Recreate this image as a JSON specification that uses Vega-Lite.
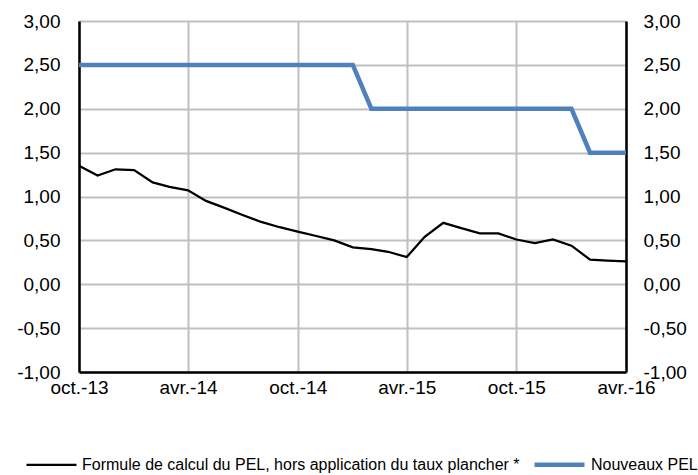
{
  "$schema": "https://vega.github.io/schema/vega-lite/v6.json",
  "autosize": "none",
  "width": 547,
  "height": 351,
  "padding": {"left": 79, "top": 21, "right": 72, "bottom": 103},
  "background": "white",
  "title": {"text": "en pourcentage", "anchor": "start", "frame": "group", "dx": -100, "offset": 1, "baseline": "alphabetic", "fontSize": 19, "font": "Liberation Sans", "fontWeight": "bold", "color": "#3B7DD8"},
  "config": {
    "font": "Liberation Sans",
    "view": {"stroke": null},
    "axis": {"labelFont": "Liberation Sans", "labelFontSize": 19, "labelColor": "#000000", "ticks": false, "gridColor": "#C0C0C0", "gridWidth": 2, "domainColor": "#000000", "domainWidth": 2.5, "title": null}
  },
  "datasets": {
    "d": [
      {"date": "2013-10-01", "s": "Formule de calcul du PEL, hors application du taux plancher *", "v": 1.35},
      {"date": "2013-11-01", "s": "Formule de calcul du PEL, hors application du taux plancher *", "v": 1.24},
      {"date": "2013-12-01", "s": "Formule de calcul du PEL, hors application du taux plancher *", "v": 1.31},
      {"date": "2014-01-01", "s": "Formule de calcul du PEL, hors application du taux plancher *", "v": 1.30},
      {"date": "2014-02-01", "s": "Formule de calcul du PEL, hors application du taux plancher *", "v": 1.16},
      {"date": "2014-03-01", "s": "Formule de calcul du PEL, hors application du taux plancher *", "v": 1.11},
      {"date": "2014-04-01", "s": "Formule de calcul du PEL, hors application du taux plancher *", "v": 1.07},
      {"date": "2014-05-01", "s": "Formule de calcul du PEL, hors application du taux plancher *", "v": 0.95},
      {"date": "2014-06-01", "s": "Formule de calcul du PEL, hors application du taux plancher *", "v": 0.87},
      {"date": "2014-07-01", "s": "Formule de calcul du PEL, hors application du taux plancher *", "v": 0.79},
      {"date": "2014-08-01", "s": "Formule de calcul du PEL, hors application du taux plancher *", "v": 0.71},
      {"date": "2014-09-01", "s": "Formule de calcul du PEL, hors application du taux plancher *", "v": 0.65},
      {"date": "2014-10-01", "s": "Formule de calcul du PEL, hors application du taux plancher *", "v": 0.60},
      {"date": "2014-11-01", "s": "Formule de calcul du PEL, hors application du taux plancher *", "v": 0.55},
      {"date": "2014-12-01", "s": "Formule de calcul du PEL, hors application du taux plancher *", "v": 0.50},
      {"date": "2015-01-01", "s": "Formule de calcul du PEL, hors application du taux plancher *", "v": 0.42},
      {"date": "2015-02-01", "s": "Formule de calcul du PEL, hors application du taux plancher *", "v": 0.40},
      {"date": "2015-03-01", "s": "Formule de calcul du PEL, hors application du taux plancher *", "v": 0.37},
      {"date": "2015-04-01", "s": "Formule de calcul du PEL, hors application du taux plancher *", "v": 0.31},
      {"date": "2015-05-01", "s": "Formule de calcul du PEL, hors application du taux plancher *", "v": 0.54},
      {"date": "2015-06-01", "s": "Formule de calcul du PEL, hors application du taux plancher *", "v": 0.70},
      {"date": "2015-07-01", "s": "Formule de calcul du PEL, hors application du taux plancher *", "v": 0.64},
      {"date": "2015-08-01", "s": "Formule de calcul du PEL, hors application du taux plancher *", "v": 0.58},
      {"date": "2015-09-01", "s": "Formule de calcul du PEL, hors application du taux plancher *", "v": 0.58},
      {"date": "2015-10-01", "s": "Formule de calcul du PEL, hors application du taux plancher *", "v": 0.51},
      {"date": "2015-11-01", "s": "Formule de calcul du PEL, hors application du taux plancher *", "v": 0.47},
      {"date": "2015-12-01", "s": "Formule de calcul du PEL, hors application du taux plancher *", "v": 0.51},
      {"date": "2016-01-01", "s": "Formule de calcul du PEL, hors application du taux plancher *", "v": 0.44},
      {"date": "2016-02-01", "s": "Formule de calcul du PEL, hors application du taux plancher *", "v": 0.28},
      {"date": "2016-03-01", "s": "Formule de calcul du PEL, hors application du taux plancher *", "v": 0.27},
      {"date": "2016-04-01", "s": "Formule de calcul du PEL, hors application du taux plancher *", "v": 0.26},
      {"date": "2013-10-01", "s": "Nouveaux PEL", "v": 2.5},
      {"date": "2013-11-01", "s": "Nouveaux PEL", "v": 2.5},
      {"date": "2013-12-01", "s": "Nouveaux PEL", "v": 2.5},
      {"date": "2014-01-01", "s": "Nouveaux PEL", "v": 2.5},
      {"date": "2014-02-01", "s": "Nouveaux PEL", "v": 2.5},
      {"date": "2014-03-01", "s": "Nouveaux PEL", "v": 2.5},
      {"date": "2014-04-01", "s": "Nouveaux PEL", "v": 2.5},
      {"date": "2014-05-01", "s": "Nouveaux PEL", "v": 2.5},
      {"date": "2014-06-01", "s": "Nouveaux PEL", "v": 2.5},
      {"date": "2014-07-01", "s": "Nouveaux PEL", "v": 2.5},
      {"date": "2014-08-01", "s": "Nouveaux PEL", "v": 2.5},
      {"date": "2014-09-01", "s": "Nouveaux PEL", "v": 2.5},
      {"date": "2014-10-01", "s": "Nouveaux PEL", "v": 2.5},
      {"date": "2014-11-01", "s": "Nouveaux PEL", "v": 2.5},
      {"date": "2014-12-01", "s": "Nouveaux PEL", "v": 2.5},
      {"date": "2015-01-01", "s": "Nouveaux PEL", "v": 2.5},
      {"date": "2015-02-01", "s": "Nouveaux PEL", "v": 2.0},
      {"date": "2015-03-01", "s": "Nouveaux PEL", "v": 2.0},
      {"date": "2015-04-01", "s": "Nouveaux PEL", "v": 2.0},
      {"date": "2015-05-01", "s": "Nouveaux PEL", "v": 2.0},
      {"date": "2015-06-01", "s": "Nouveaux PEL", "v": 2.0},
      {"date": "2015-07-01", "s": "Nouveaux PEL", "v": 2.0},
      {"date": "2015-08-01", "s": "Nouveaux PEL", "v": 2.0},
      {"date": "2015-09-01", "s": "Nouveaux PEL", "v": 2.0},
      {"date": "2015-10-01", "s": "Nouveaux PEL", "v": 2.0},
      {"date": "2015-11-01", "s": "Nouveaux PEL", "v": 2.0},
      {"date": "2015-12-01", "s": "Nouveaux PEL", "v": 2.0},
      {"date": "2016-01-01", "s": "Nouveaux PEL", "v": 2.0},
      {"date": "2016-02-01", "s": "Nouveaux PEL", "v": 1.5},
      {"date": "2016-03-01", "s": "Nouveaux PEL", "v": 1.5},
      {"date": "2016-04-01", "s": "Nouveaux PEL", "v": 1.5}
    ]
  },
  "data": {"name": "d"},
  "resolve": {"scale": {"y": "independent"}},
  "layer": [
    {
      "mark": {"type": "line", "strokeJoin": "miter", "strokeCap": "butt"},
      "encoding": {
        "x": {"field": "date", "type": "temporal", "scale": {"type": "utc", "domain": ["2013-10-01", "2016-04-01"]},
          "axis": {"values": ["2013-10-01", "2014-04-01", "2014-10-01", "2015-04-01", "2015-10-01", "2016-04-01"], "labelExpr": "(utcmonth(datum.value)==9 ? 'oct.-' : 'avr.-') + utcFormat(datum.value, '%y')", "labelPadding": 6, "domainWidth": 2.5, "labelFlush": false}},
        "y": {"field": "v", "type": "quantitative", "scale": {"domain": [-1, 3]},
          "axis": {"orient": "left", "values": [-1, -0.5, 0, 0.5, 1, 1.5, 2, 2.5, 3], "labelExpr": "replace(replace(format(datum.value, '.2f'), '.', ','), '\u2212', '-')", "labelPadding": 19}},
        "color": {"field": "s", "type": "nominal", "scale": {"domain": ["Formule de calcul du PEL, hors application du taux plancher *", "Nouveaux PEL"], "range": ["#000000", "#4F81BD"]},
          "legend": {"orient": "none", "legendX": -54, "legendY": 416, "direction": "horizontal", "title": null, "symbolType": "stroke", "symbolSize": 2500, "labelFontSize": 16, "labelFont": "Liberation Sans", "labelColor": "#000000", "labelOffset": 4, "columnPadding": 5, "labelLimit": 600}},
        "strokeWidth": {"field": "s", "type": "nominal", "scale": {"domain": ["Formule de calcul du PEL, hors application du taux plancher *", "Nouveaux PEL"], "range": [2.25, 4.5]}, "legend": null}
      }
    },
    {
      "mark": {"type": "line", "opacity": 0, "strokeWidth": 0},
      "encoding": {
        "x": {"field": "date", "type": "temporal"},
        "y": {"field": "v", "type": "quantitative", "scale": {"domain": [-1, 3]},
          "axis": {"orient": "right", "values": [-1, -0.5, 0, 0.5, 1, 1.5, 2, 2.5, 3], "labelExpr": "replace(replace(format(datum.value, '.2f'), '.', ','), '\u2212', '-')", "labelPadding": 17, "grid": false}}
      }
    }
  ]
}
